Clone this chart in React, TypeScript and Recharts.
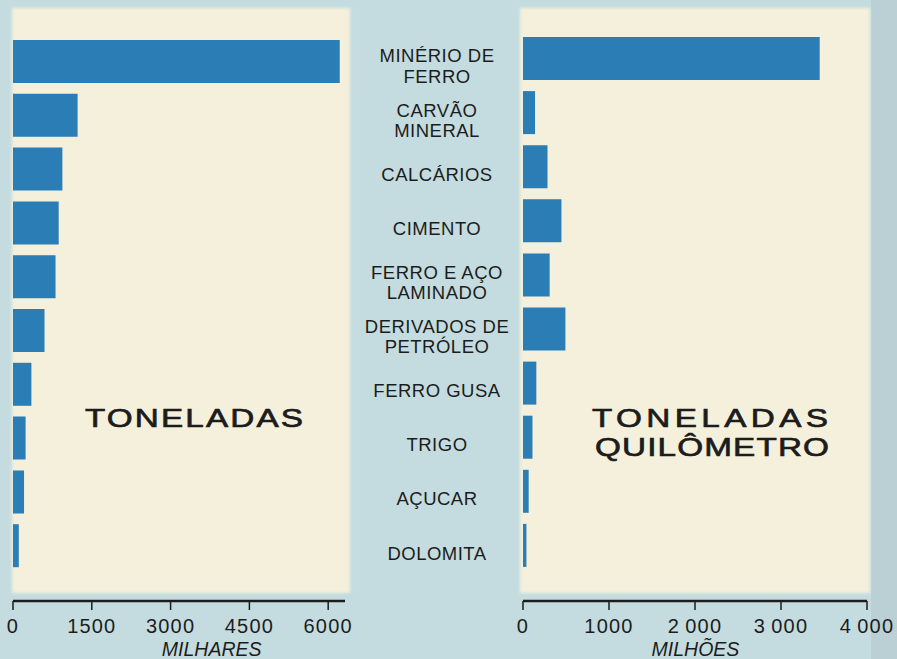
import React from 'react';
import { BarChart, Bar, XAxis, YAxis } from 'recharts';

const categories = [
  'MINÉRIO DE FERRO',
  'CARVÃO MINERAL',
  'CALCÁRIOS',
  'CIMENTO',
  'FERRO E AÇO LAMINADO',
  'DERIVADOS DE PETRÓLEO',
  'FERRO GUSA',
  'TRIGO',
  'AÇUCAR',
  'DOLOMITA',
];
const categoryLines = [
  ['MINÉRIO DE', 'FERRO'],
  ['CARVÃO', 'MINERAL'],
  ['CALCÁRIOS'],
  ['CIMENTO'],
  ['FERRO E AÇO', 'LAMINADO'],
  ['DERIVADOS DE', 'PETRÓLEO'],
  ['FERRO GUSA'],
  ['TRIGO'],
  ['AÇUCAR'],
  ['DOLOMITA'],
];
// Toneladas (milhares)
const toneladas = [6220, 1230, 940, 870, 810, 600, 350, 240, 210, 110];
// Toneladas-quilômetro (milhões)
const toneladasKm = [3450, 140, 285, 447, 310, 493, 155, 110, 66, 40];

const leftTicks = [0, 1500, 3000, 4500, 6000];
const leftTickLabels = ['0', '1500', '3000', '4500', '6000'];
const rightTicks = [0, 1000, 2000, 3000, 4000];
const rightTickLabels = ['0', '1000', '2\u2009000', '3\u2009000', '4\u2009000'];

const leftData = categories.map((name, i) => ({ name, value: toneladas[i] }));
const rightData = categories.map((name, i) => ({ name, value: toneladasKm[i] }));

const FONT = '"Liberation Sans", Arial, Helvetica, sans-serif';
const BAR = '#2b7db5';
const INK = '#1c1c1c';

const tickStyle = { fontFamily: FONT, fontSize: 20, fill: INK, letterSpacing: 1.2 };

function CategoryTick(props: any) {
  const { x, y, payload } = props;
  const idx = categories.indexOf(payload.value);
  const lines = idx >= 0 ? categoryLines[idx] : [String(payload.value)];
  const lh = 20.5;
  const center = y + 8;
  const first = center - ((lines.length - 1) * lh) / 2;
  return (
    <g>
      {lines.map((ln: string, k: number) => (
        <text
          key={k}
          x={x - 86}
          y={first + k * lh + 6.6}
          textAnchor="middle"
          fontFamily={FONT}
          fontSize={18.5}
          letterSpacing={0.5}
          fill={INK}
        >
          {ln}
        </text>
      ))}
    </g>
  );
}

function WideTitle({ x, y, width, text }: { x: number; y: number; width: number; text: string }) {
  const sx = 1.28;
  return (
    <text
      transform={`translate(${x},${y}) scale(${sx},1)`}
      x={0}
      y={0}
      textLength={width / sx}
      lengthAdjust="spacing"
      fontFamily={FONT}
      fontSize={26}
      fill={INK}
      stroke={INK}
      strokeWidth={0.7}
    >
      {text}
    </text>
  );
}

export default function App() {
  return (
    <div style={{ position: 'absolute', left: 0, top: 0, width: 897, height: 659, overflow: 'hidden' }}>
      <svg width={897} height={659} style={{ position: 'absolute', left: 0, top: 0 }}>
        <defs>
          <filter id="soft" x="-5%" y="-5%" width="110%" height="110%">
            <feGaussianBlur stdDeviation="1.8" />
          </filter>
        </defs>
        <rect x={0} y={0} width={897} height={659} fill="#c4dcdf" />
        <rect x={871} y={0} width={26} height={659} fill="#bad0d4" />
        <rect x={12} y={8} width={338} height={585} fill="#f4f0dc" filter="url(#soft)" />
        <rect x={520} y={8} width={350} height={585} fill="#f4f0dc" filter="url(#soft)" />
        <WideTitle x={85} y={427} width={218} text="TONELADAS" />
        <WideTitle x={592} y={427} width={236} text="TONELADAS" />
        <WideTitle x={595} y={456} width={234} text="QUILÔMETRO" />
        <text x={211.7} y={655.5} textAnchor="middle" fontFamily={FONT} fontSize={19.5} fontStyle="italic" fill={INK}>
          MILHARES
        </text>
        <text x={695.5} y={655.5} textAnchor="middle" fontFamily={FONT} fontSize={19.5} fontStyle="italic" fill={INK}>
          MILHÕES
        </text>
      </svg>

      <div style={{ position: 'absolute', left: 0, top: 0 }}>
        <BarChart
          width={370}
          height={659}
          layout="vertical"
          data={leftData}
          margin={{ top: 35, right: 25, bottom: 8, left: 13 }}
        >
          <XAxis
            type="number"
            domain={[0, 6320]}
            ticks={leftTicks}
            interval={0}
            tickFormatter={(v: number) => leftTickLabels[leftTicks.indexOf(v)] ?? String(v)}
            axisLine={{ stroke: INK, strokeWidth: 2.5 }}
            tickLine={{ stroke: INK, strokeWidth: 1.5 }}
            tickSize={9}
            tickMargin={9}
            height={50}
            tick={tickStyle}
          />
          <YAxis type="category" dataKey="name" hide width={0} padding={{ top: 0, bottom: 28 }} />
          <Bar dataKey="value" fill={BAR} barSize={43} isAnimationActive={false} />
        </BarChart>
      </div>

      <div style={{ position: 'absolute', left: 350, top: 0 }}>
        <BarChart
          width={547}
          height={659}
          layout="vertical"
          data={rightData}
          margin={{ top: 31, right: 30, bottom: 8, left: 0 }}
        >
          <XAxis
            type="number"
            domain={[0, 4000]}
            ticks={rightTicks}
            interval={0}
            tickFormatter={(v: number) => rightTickLabels[rightTicks.indexOf(v)] ?? String(v)}
            axisLine={{ stroke: INK, strokeWidth: 2.5 }}
            tickLine={{ stroke: INK, strokeWidth: 1.5 }}
            tickSize={9}
            tickMargin={9}
            height={50}
            tick={tickStyle}
          />
          <YAxis
            type="category"
            dataKey="name"
            width={173}
            axisLine={false}
            tickLine={false}
            tickSize={0}
            tickMargin={0}
            interval={0}
            padding={{ top: 0, bottom: 29 }}
            tick={<CategoryTick />}
          />
          <Bar dataKey="value" fill={BAR} barSize={43} isAnimationActive={false} />
        </BarChart>
      </div>
    </div>
  );
}
